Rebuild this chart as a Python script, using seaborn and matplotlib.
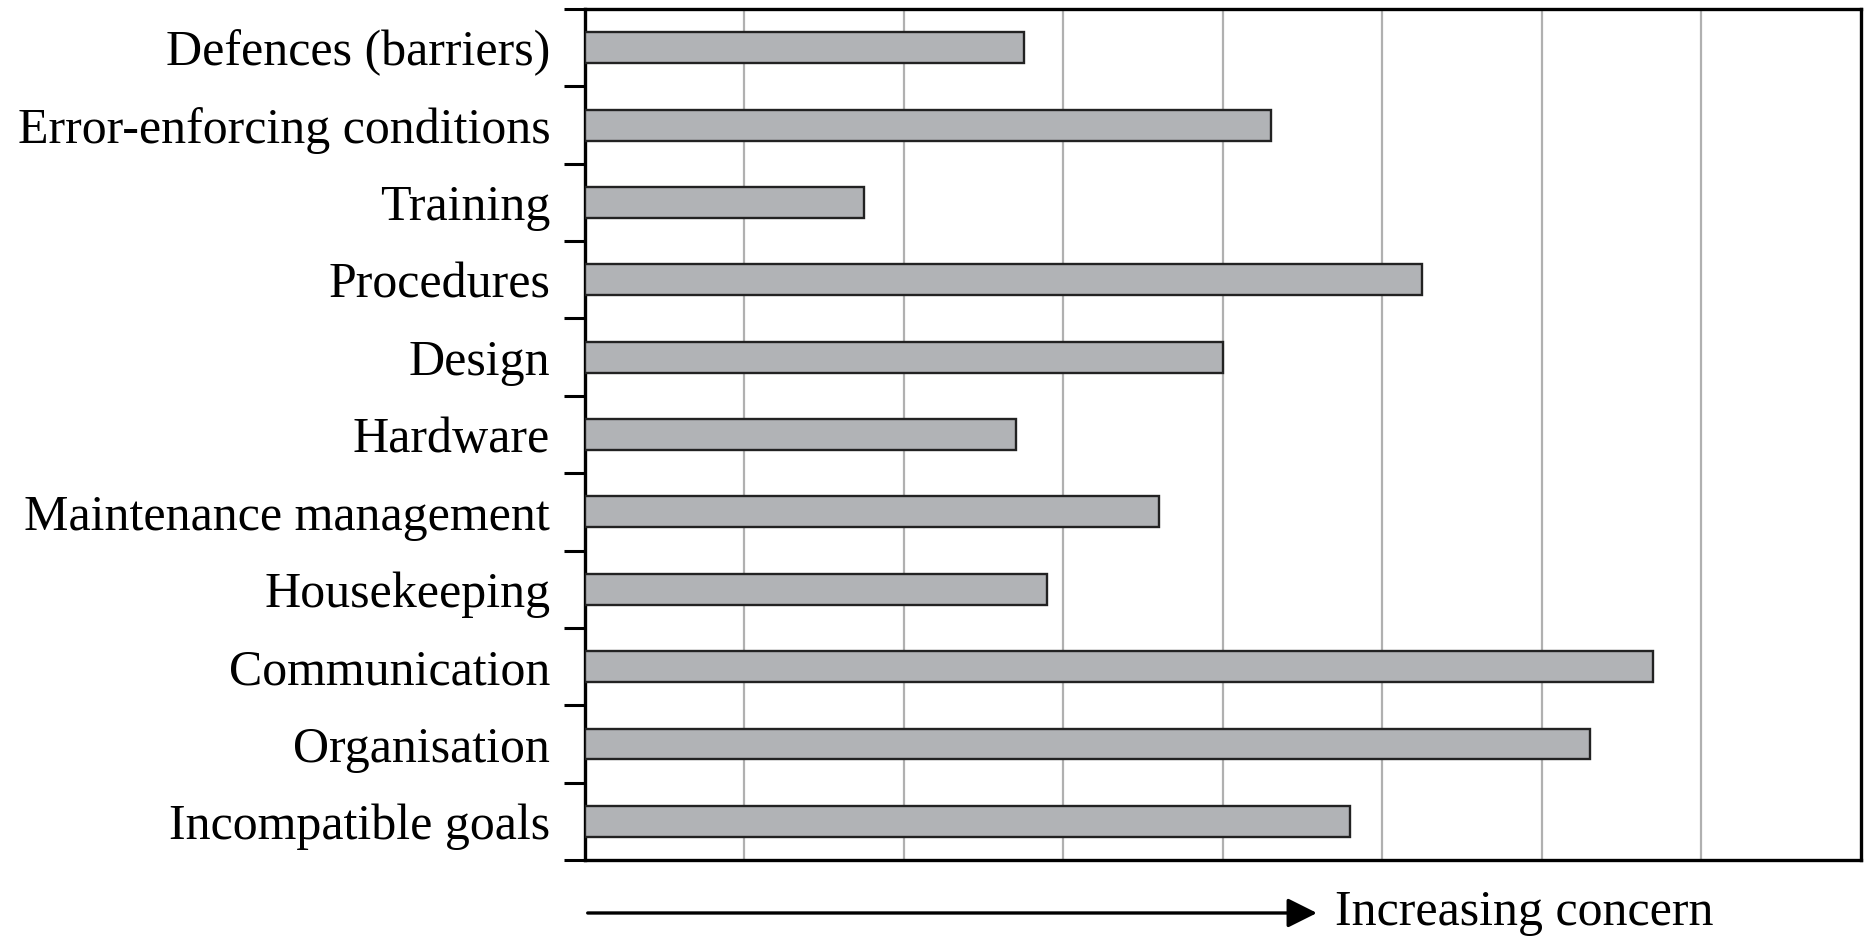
import matplotlib
matplotlib.use("Agg")
import matplotlib.pyplot as plt
import seaborn as sns
import pandas as pd
import numpy as np

factors = ["Defences (barriers)", "Error-enforcing conditions", "Training", "Procedures",
           "Design", "Hardware", "Maintenance management", "Housekeeping",
           "Communication", "Organisation", "Incompatible goals"]
concern = [2.75, 4.30, 1.75, 5.25, 4.0, 2.70, 3.60, 2.90, 6.70, 6.30, 4.80]

sns.set_style("white")
plt.rcParams['font.family'] = ['Liberation Serif', 'DejaVu Serif']
plt.rcParams['text.color'] = 'black'
plt.rcParams['ytick.color'] = 'black'
plt.rcParams['ytick.labelcolor'] = 'black'

df = pd.DataFrame({"factor": factors, "concern": concern})

fig = plt.figure(figsize=(18.64, 9.39), dpi=100)
ax = fig.add_axes([0.3138, 0.0841, 0.6845, 0.9063])

sns.barplot(data=df, x="concern", y="factor", orient="h", color="#b1b3b6",
            saturation=1, width=0.4, edgecolor="#222222", linewidth=1.7, ax=ax, zorder=3)

ax.set_xlim(0, 8)
ax.set_ylim(len(factors) - 0.5, -0.5)
ax.set_xticks(np.arange(1, 8))
ax.set_xticklabels([])
ax.tick_params(axis="x", length=0)
ax.grid(axis="x", color="#b0b0b0", linewidth=1.6, zorder=0)
ax.grid(axis="y", visible=False)
ax.set_axisbelow(True)

ax.tick_params(axis="y", which="major", length=0, pad=25, labelsize=36, labelcolor="black")
ax.set_yticks(np.arange(-0.5, len(factors)), minor=True)
ax.tick_params(axis="y", which="minor", left=True, length=15, width=2.2,
               color="black", direction="out")

for s in ax.spines.values():
    s.set_color("black")
    s.set_linewidth(2.4)

ax.set_xlabel("")
ax.set_ylabel("")

# arrow under the axis
fig.patches.append(matplotlib.patches.FancyArrowPatch(
    (0.3138, 0.0277), (0.708, 0.0277), transform=fig.transFigure,
    arrowstyle="-|>,head_length=0.9,head_width=0.45", mutation_scale=20,
    color="black", linewidth=2.4))
fig.text(0.716, 0.0277, "Increasing concern", fontsize=36, va="center", ha="left")

fig.savefig("out.png", dpi=100)
